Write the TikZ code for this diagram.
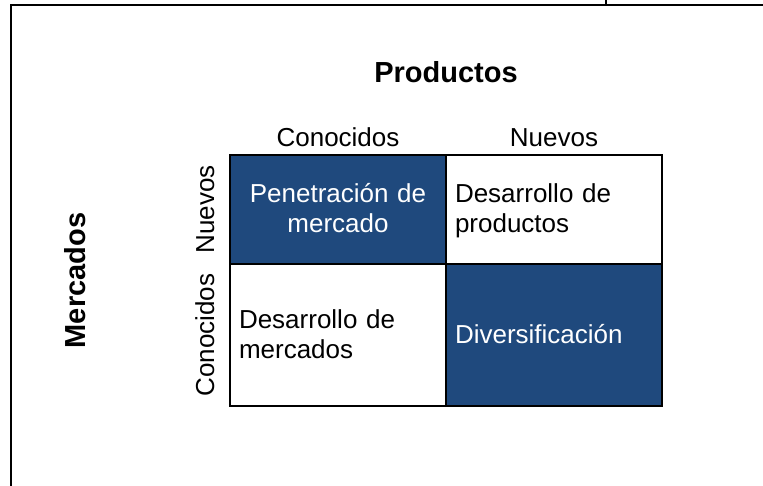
\documentclass[tikz,border=0pt]{standalone}
\usepackage{fontspec}
\setmainfont{Liberation Sans}
\usepackage{tikz}
\definecolor{azul}{HTML}{1F497D}
\newcommand{\celdastrut}{\rule[-6.6pt]{0pt}{29.6pt}}

\begin{document}
\begin{tikzpicture}[x=1pt,y=-1pt,node distance=216pt,
                    every node/.style={font=\fontsize{26}{30}\selectfont}]
  \tikzstyle{celda}=[draw, line width=2pt, minimum width=216pt, inner sep=0pt,
                     text width=198pt, align=left]
  \tikzstyle{titulo}=[font=\fontsize{29}{34}\selectfont\bfseries, anchor=base]
  \useasboundingbox (0,0) rectangle (763,486);

  % marco
  \draw[line width=2pt] (11,486) -- (11,5) -- (763,5);
  \draw[line width=2pt] (605.5,0) -- (605.5,4);

  \node[celda, fill=azul, text=white, align=center, minimum height=109pt]
        (PM) at (338,209.5) {\celdastrut Penetración de\\mercado\celdastrut};
  \node[celda, minimum height=109pt]
        (DP) [right of=PM] {\celdastrut Desarrollo de\\productos\celdastrut};
  \node[celda, minimum height=142pt]
        (DM) [below of=PM, node distance=125.5pt] {\celdastrut Desarrollo de\\mercados\celdastrut};
  \node[celda, fill=azul, text=white, minimum height=142pt]
        (DI) [right of=DM] {\celdastrut Diversificación\celdastrut};

  \node[titulo] (P) at (446,82.7) {Productos};
  \node[titulo, rotate=90] (M) at (85,280.5) {Mercados};

  \node[anchor=base] (PC) at ([yshift=7.5pt]PM.north) {Conocidos};
  \node[anchor=base] (PN) at ([yshift=7.5pt]DP.north) {Nuevos};
  \node[anchor=base, rotate=90] (MN) at ([xshift=-15pt]PM.west) {Nuevos};
  \node[anchor=base, rotate=90] (MC) at ([xshift=-15pt]DM.west) {Conocidos};
\end{tikzpicture}
\end{document}
